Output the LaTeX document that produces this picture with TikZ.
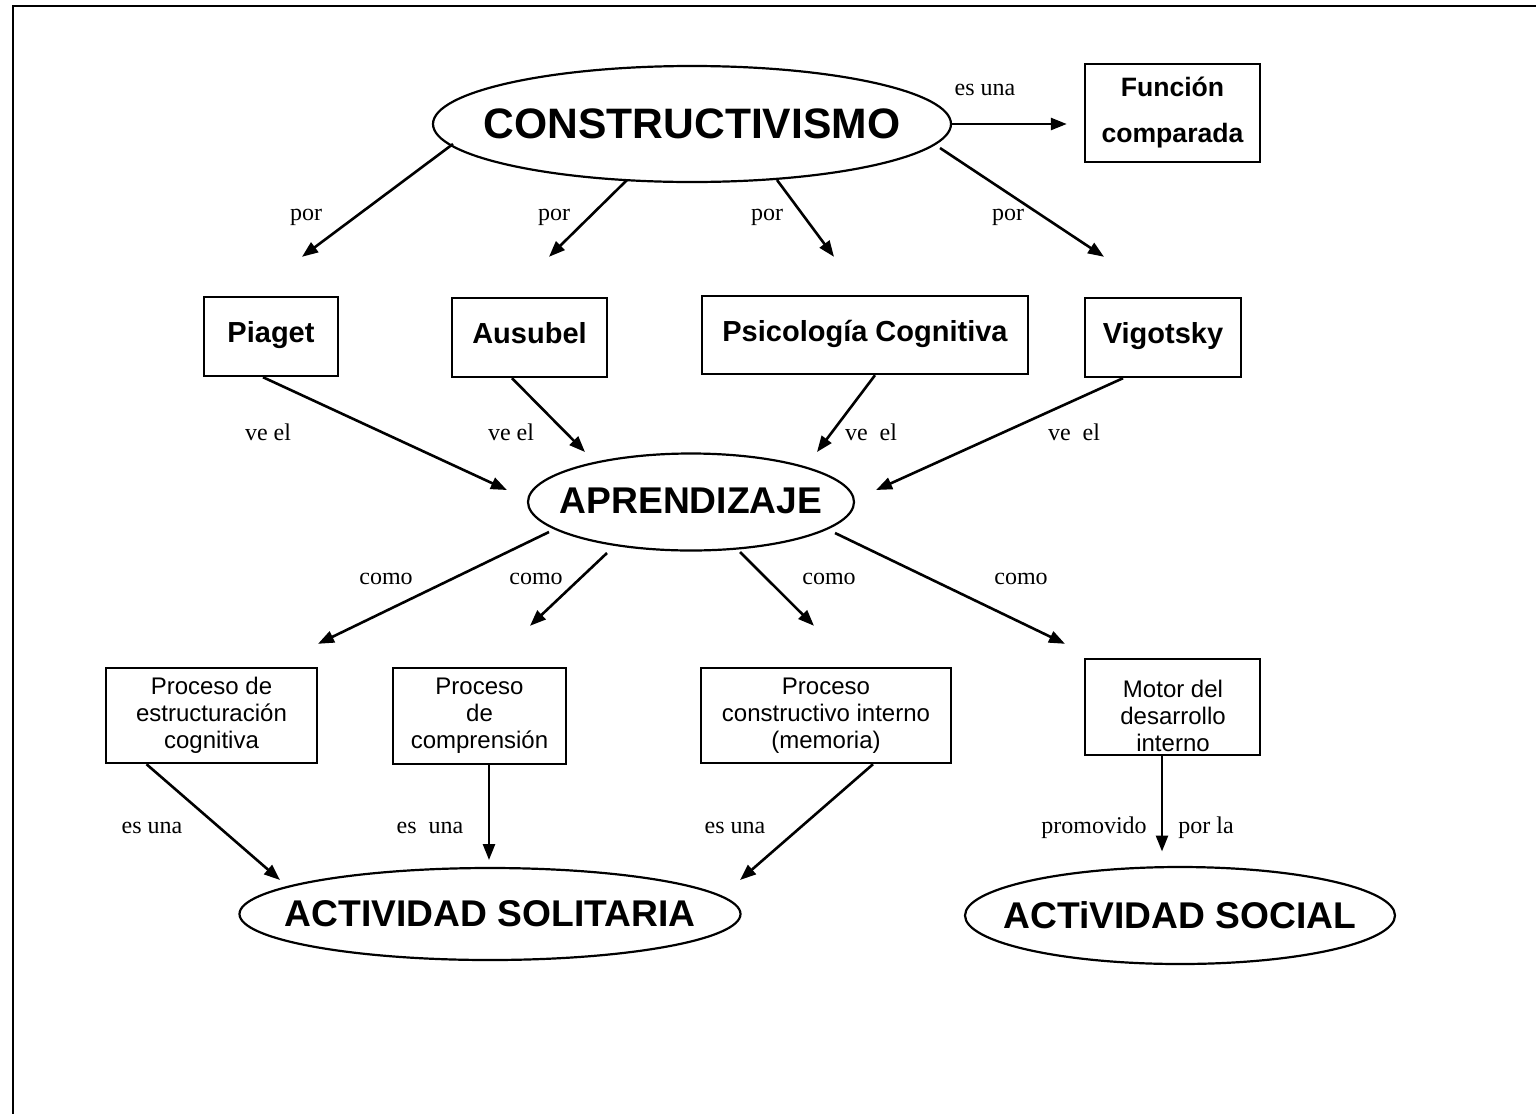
\documentclass[tikz,border=0pt]{standalone}
\usepackage{fontspec}
\setmainfont{Liberation Serif}
\newfontfamily\arial{Liberation Sans}
\usetikzlibrary{shapes.geometric,arrows.meta,calc}
% ellipse text that does not widen its ellipse
\newcommand{\inoval}[1]{\makebox[0pt]{#1}}
\begin{document}
\begin{tikzpicture}[x=0.5pt,y=-0.5pt,
  concept/.style={draw,ellipse,line width=1.1pt,inner sep=0pt},
  box/.style={draw,rectangle,line width=1.2pt,inner sep=0pt,align=center},
  bigfont/.style={font=\arial\bfseries\fontsize{18.6}{22}\selectfont},
  namefont/.style={font=\arial\bfseries\fontsize{14.5}{17}\selectfont,text height=9pt,text depth=3pt},
  smallfont/.style={font=\arial\fontsize{12}{13.5}\selectfont},
  lbl/.style={font=\fontsize{12}{14}\selectfont,inner sep=0pt},
  link/.style={line width=1.3pt,-{Triangle[length=8pt,width=6pt]}}]
\useasboundingbox (0,0) rectangle (1536,1114);
% page frame
\draw[line width=1.2pt] (1536,6) -- (13,6) -- (13,1114);

% concepts
\node[concept,minimum width=259pt,minimum height=58pt,
      font=\arial\bfseries\fontsize{21.3}{25}\selectfont] (cons) at (692,124) {\inoval{\raisebox{-2pt}{CONSTRUCTIVISMO}}};
\node[box,minimum width=87.5pt,minimum height=49pt,
      font=\arial\bfseries\fontsize{13.3}{23}\selectfont] (func) at (1172.5,113) {Funci\'on\\comparada};

\node[box,namefont,minimum width=67pt,minimum height=39.5pt] (piaget) at (271,336.5) {Piaget};
\node[box,namefont,minimum width=77.5pt,minimum height=39.5pt] (ausubel) at (529.5,337.5) {Ausubel};
\node[box,namefont,minimum width=163pt,minimum height=39pt] (psic) at (865,335) {Psicolog\'ia Cognitiva};
\node[box,namefont,minimum width=78pt,minimum height=39.5pt] (vigot) at (1163,337.5) {Vigotsky};

\node[concept,minimum width=163pt,minimum height=48.5pt,bigfont] (apr) at (691,502) {\inoval{\raisebox{1pt}{APRENDIZAJE}}};

\node[box,smallfont,minimum width=105.5pt,minimum height=47.5pt] (b1) at (211.5,715.5) {Proceso de\\estructuraci\'on\\cognitiva};
\node[box,smallfont,minimum width=86.5pt,minimum height=48pt] (b2) at (479.5,716) {Proceso\\de\\comprensi\'on};
\node[box,smallfont,minimum width=125pt,minimum height=47.5pt] (b3) at (826,715.5) {Proceso\\constructivo interno\\(memoria)};
\node[box,minimum width=87.5pt,minimum height=48pt] (b4) at (1172.5,707) {};
\node[smallfont,align=center,inner sep=0pt] (b4text) at (1173,716) {Motor del\\desarrollo\\interno};

\node[concept,minimum width=250.5pt,minimum height=46pt,bigfont] (sol) at (490,914) {\inoval{\raisebox{-1pt}{ACTIVIDAD SOLITARIA}}};
\node[concept,minimum width=215pt,minimum height=48.5pt,bigfont] (soc) at (1180,915.5) {\inoval{ACTiVIDAD SOCIAL}};

% links from CONSTRUCTIVISMO
\draw[link] ($(cons.center)+(-239,20)$) -- ($(piaget.north)+(31,-39)$);
\draw[link] ($(cons.center)+(-65,56)$) -- ($(ausubel.north)+(19.5,-40)$);
\draw[link] ($(cons.center)+(85,56)$) -- ($(psic.north)+(-31,-38)$);
\draw[link] ($(cons.center)+(248,24)$) -- ($(vigot.north)+(-59,-40)$);
\draw[link] (cons.east) -- ($(func.west)+(-17,11)$);

% links to APRENDIZAJE
\draw[link] ($(piaget.south)+(-8,0)$) -- ($(apr.west)+(-20,-12)$);
\draw[link] ($(ausubel.south)+(-17.5,0)$) -- ($(apr.center)+(-106,-50)$);
\draw[link] ($(psic.south)+(10,0)$) -- ($(apr.center)+(126,-50)$);
\draw[link] ($(vigot.south)+(-40,0)$) -- ($(apr.east)+(21,-12)$);

% links from APRENDIZAJE
\draw[link] ($(apr.center)+(-142,30)$) -- ($(b1.north)+(106.5,-23)$);
\draw[link] ($(apr.center)+(-84,51)$) -- ($(b2.north)+(50.5,-41)$);
\draw[link] ($(apr.center)+(49,50)$) -- ($(b3.north)+(-12,-41)$);
\draw[link] ($(apr.center)+(144,31)$) -- ($(b4.north)+(-107.5,-14)$);

% links to the activities
\draw[link] ($(b1.south)+(-65,0)$) -- ($(sol.center)+(-210,-34)$);
\draw[link] ($(b2.south)+(9.5,0)$) -- ($(sol.center)+(-1,-54)$);
\draw[link] ($(b3.south)+(47,0)$) -- ($(sol.center)+(250,-34)$);
\draw[link] ($(b4.south)+(-10.5,0)$) -- ($(soc.center)+(-18,-64)$);

% link labels
\node[lbl] (l0) at (985,90) {es una};
\node[lbl] (l1) at (306,217) {por};
\node[lbl] (l2) at (554,217) {por};
\node[lbl] (l3) at (767,217) {por};
\node[lbl] (l4) at (1008,217) {por};
\node[lbl] (l5) at (268,432) {ve el};
\node[lbl] (l6) at (511,432) {ve el};
\node[lbl] (l7) at (871,432) {ve~~el};
\node[lbl] (l8) at (1074,432) {ve~~el};
\node[lbl] (l9) at (386,579) {como};
\node[lbl] (l10) at (536,579) {como};
\node[lbl] (l11) at (829,579) {como};
\node[lbl] (l12) at (1021,579) {como};
\node[lbl] (l13) at (152,828) {es una};
\node[lbl] (l14) at (430,828) {es~~una};
\node[lbl] (l15) at (735,828) {es una};
\node[lbl] (l16) at (1094,828) {promovido};
\node[lbl] (l17) at (1206,828) {por la};
\end{tikzpicture}
\end{document}
